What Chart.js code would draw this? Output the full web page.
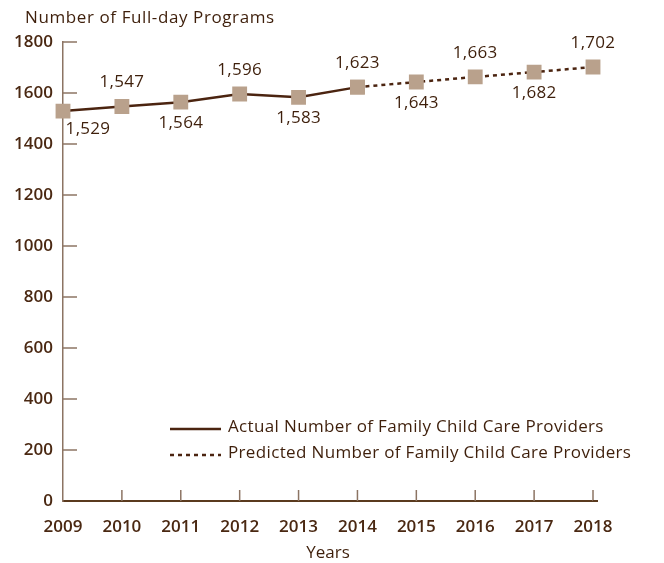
<!DOCTYPE html>
<html>
<head>
<meta charset="utf-8">
<title>Number of Full-day Programs</title>
<script src="https://cdn.jsdelivr.net/npm/chart.js@4.4.1/dist/chart.umd.min.js"></script>
<style>
  html, body { margin: 0; padding: 0; background: #fff; }
  #wrap { width: 664px; height: 563px; position: relative; }
</style>
</head>
<body>
<div id="wrap"><canvas id="chart"></canvas></div>
<script>
// Chart data
const years = ['2009', '2010', '2011', '2012', '2013', '2014', '2015', '2016', '2017', '2018'];
const actual = [1529, 1547, 1564, 1596, 1583, 1623, null, null, null, null];
const predicted = [null, null, null, null, null, 1623, 1643, 1663, 1682, 1702];
const allValues = [1529, 1547, 1564, 1596, 1583, 1623, 1643, 1663, 1682, 1702];
// label placement: 1 = above point, -1 = below
const labelSide = [-1, 1, -1, 1, -1, 1, -1, 1, -1, 1];
const yTicks = [0, 200, 400, 600, 800, 1000, 1200, 1400, 1600, 1800];

const TEXT = '#4a2812';
const TEXT_DARK = '#3e1f0b';
const LINE = '#4b2410';
const MARK = '#b9a18c';
const AXIS_Y = '#8c7463';
const AXIS_X = '#5a3a1e';
const FONT = '"Open Sans", "Noto Sans", sans-serif';

// Draws inner tick marks, the title, point labels and the legend
const decor = {
  id: 'decor',
  afterDraw(chart) {
    const ctx = chart.ctx;
    const xs = chart.scales.x;
    const ys = chart.scales.y;
    ctx.save();

    // y ticks pointing into the plot
    ctx.strokeStyle = AXIS_Y;
    ctx.lineWidth = 1.5;
    yTicks.forEach(v => {
      if (v === 0) return;
      const py = ys.getPixelForValue(v);
      ctx.beginPath();
      ctx.moveTo(xs.left, py);
      ctx.lineTo(xs.left + 14, py);
      ctx.stroke();
    });
    // x ticks pointing up
    years.forEach((y, i) => {
      if (i === 0) return;
      const px = xs.getPixelForValue(i);
      ctx.beginPath();
      ctx.moveTo(px, ys.bottom);
      ctx.lineTo(px, ys.bottom - 11);
      ctx.stroke();
    });
    // short extension of x axis past the last point
    ctx.strokeStyle = AXIS_X;
    ctx.lineWidth = 2;
    ctx.beginPath();
    ctx.moveTo(xs.right, ys.bottom);
    ctx.lineTo(xs.right + 5, ys.bottom);
    ctx.stroke();

    // title
    ctx.fillStyle = TEXT_DARK;
    ctx.font = '17px ' + FONT;
    ctx.letterSpacing = '0.6px';
    ctx.textAlign = 'left';
    ctx.textBaseline = 'middle';
    ctx.fillText('Number of Full-day Programs', 25, 18);

    // point labels
    ctx.letterSpacing = '0.3px';
    ctx.textAlign = 'center';
    allValues.forEach((v, i) => {
      const px = xs.getPixelForValue(i);
      const py = ys.getPixelForValue(v);
      const txt = v.toLocaleString('en-US');
      let lx = px;
      let ly = labelSide[i] > 0 ? py - 24 : py + 21;
      if (i === 0) { lx = px + 25; ly = py + 18; }
      ctx.fillText(txt, lx, ly);
    });

    // legend
    const lgX = 170, lgY = 427;
    ctx.strokeStyle = LINE;
    ctx.lineWidth = 2.5;
    ctx.beginPath();
    ctx.moveTo(lgX, lgY + 2);
    ctx.lineTo(lgX + 51, lgY + 2);
    ctx.stroke();
    ctx.setLineDash([4, 4]);
    ctx.beginPath();
    ctx.moveTo(lgX, lgY + 28);
    ctx.lineTo(lgX + 51, lgY + 28);
    ctx.stroke();
    ctx.setLineDash([]);
    ctx.textAlign = 'left';
    ctx.letterSpacing = '0.35px';
    ctx.fillText(chart.data.datasets[0].label, lgX + 58, lgY);
    ctx.fillText(chart.data.datasets[1].label, lgX + 58, lgY + 26);

    ctx.restore();
  }
};

new Chart(document.getElementById('chart'), {
  type: 'line',
  data: {
    labels: years,
    datasets: [
      {
        label: 'Actual Number of Family Child Care Providers',
        data: actual,
        borderColor: LINE,
        borderWidth: 2.5,
        pointStyle: 'rect',
        pointRadius: 10.5,
        pointBackgroundColor: MARK,
        pointBorderWidth: 0,
        tension: 0,
        order: 2
      },
      {
        label: 'Predicted Number of Family Child Care Providers',
        data: predicted,
        borderColor: LINE,
        borderWidth: 2.5,
        borderDash: [4, 4],
        pointStyle: 'rect',
        pointRadius: 10.5,
        pointBackgroundColor: MARK,
        pointBorderWidth: 0,
        tension: 0,
        order: 1
      }
    ]
  },
  options: {
    responsive: true,
    maintainAspectRatio: false,
    animation: false,
    devicePixelRatio: 1,
    layout: { padding: { top: 42, right: 71, left: 0, bottom: 0 } },
    plugins: {
      legend: { display: false },
      tooltip: { enabled: false }
    },
    scales: {
      x: {
        offset: false,
        grid: { display: false, drawTicks: false },
        border: { color: AXIS_X, width: 2 },
        ticks: { color: TEXT, font: { family: FONT, size: 17, weight: 600 }, padding: 16, maxRotation: 0, autoSkip: false },
        title: { display: true, text: 'Years', color: TEXT_DARK, font: { family: FONT, size: 17 }, padding: { top: 1, bottom: 0 } },
        afterFit(scale) { scale.height = 62; }
      },
      y: {
        min: 0,
        max: 1800,
        afterBuildTicks(scale) { scale.ticks = yTicks.map(v => ({ value: v })); },
        grid: { display: false, drawTicks: false },
        border: { color: AXIS_Y, width: 1.5 },
        ticks: { color: TEXT, font: { family: FONT, size: 17, weight: 600 }, padding: 10, callback: v => String(v) },
        afterFit(scale) { scale.width = 63; }
      }
    }
  },
  plugins: [decor]
});
</script>
</body>
</html>
